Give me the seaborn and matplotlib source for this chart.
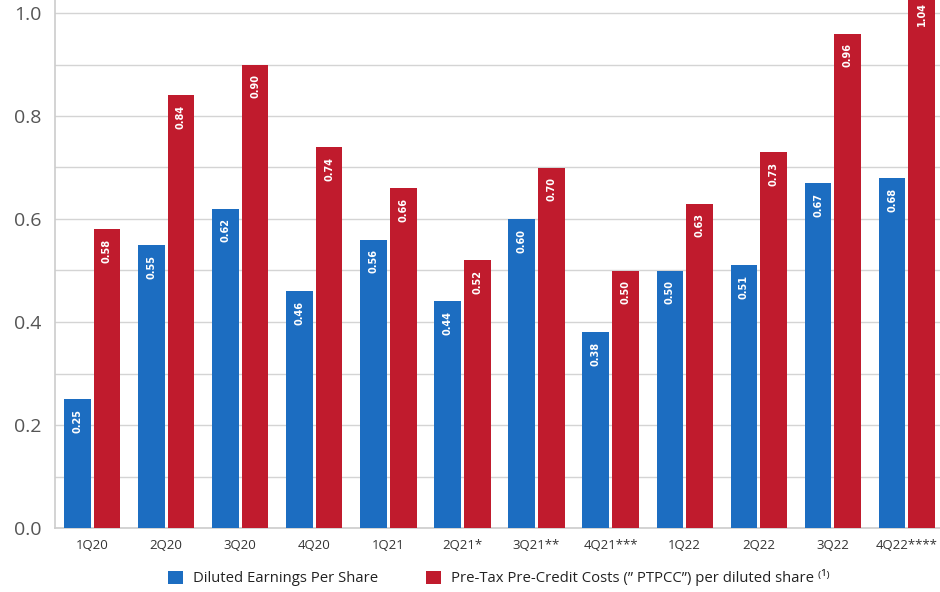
import matplotlib
matplotlib.use("Agg")
import matplotlib.pyplot as plt
from matplotlib.ticker import MultipleLocator, FixedLocator
import numpy as np
import pandas as pd
import seaborn as sns

# Quarterly per-share figures
quarters = ["1Q20", "2Q20", "3Q20", "4Q20", "1Q21", "2Q21*", "3Q21**",
            "4Q21***", "1Q22", "2Q22", "3Q22", "4Q22****"]
diluted_eps = [0.25, 0.55, 0.62, 0.46, 0.56, 0.44, 0.60, 0.38, 0.50, 0.51, 0.67, 0.68]
ptpcc = [0.58, 0.84, 0.90, 0.74, 0.66, 0.52, 0.70, 0.50, 0.63, 0.73, 0.96, 1.04]
series_names = ["Diluted Earnings Per Share",
                "Pre-Tax Pre-Credit Costs (\u201d PTPCC\u201d) per diluted share \u207d\u00b9\u207e"]
colors = ["#1c6dc1", "#c01b2d"]

df = pd.DataFrame({
    "quarter": quarters * 2,
    "value": diluted_eps + ptpcc,
    "series": [series_names[0]] * len(quarters) + [series_names[1]] * len(quarters),
})

sns.set_theme(style="white")
plt.rcParams["font.family"] = ["Open Sans", "DejaVu Sans"]

fig = plt.figure(figsize=(9.4, 5.92), dpi=100)
ax = fig.add_axes([55 / 940, 1 - 528 / 592, 889 / 940, 528 / 592])

sns.barplot(data=df, x="quarter", y="value", hue="series", palette=colors,
            width=0.8, gap=0.1, saturation=1, linewidth=0, ax=ax, legend=True, zorder=3)

ax.set_ylim(0, 528 / 515)
ax.set_xlim(-0.5, len(quarters) - 0.5)

# Grid every 0.1, labels every 0.2
ax.yaxis.set_major_locator(MultipleLocator(0.2))
ax.yaxis.set_minor_locator(MultipleLocator(0.1))
ax.grid(True, axis="y", which="both", color="#d4d4d4", linewidth=1, zorder=0)
ax.set_axisbelow(True)
ax.tick_params(axis="y", which="both", length=0, pad=10, labelsize=14, labelcolor="#555555")
ax.set_yticklabels([f"{v:.1f}" for v in ax.get_yticks()])

# Group separators along the baseline
ax.xaxis.set_minor_locator(FixedLocator(np.arange(0.5, len(quarters) - 0.5, 1)))
ax.tick_params(axis="x", which="major", length=0, pad=8, labelsize=9.5, labelcolor="#333333")
ax.tick_params(axis="x", which="minor", length=14, direction="in", color="#cccccc", width=1.2)

for side in ["top", "right"]:
    ax.spines[side].set_visible(False)
for side in ["left", "bottom"]:
    ax.spines[side].set_color("#cccccc")
    ax.spines[side].set_linewidth(1.2)

ax.set_xlabel("")
ax.set_ylabel("")

# Value labels inside the bars
for container, values in zip(ax.containers, [diluted_eps, ptpcc]):
    for patch, v in zip(container.patches, values):
        xc = patch.get_x() + patch.get_width() / 2
        ax.text(xc, v - 0.019, f"{v:.2f}", rotation=90, ha="center", va="top",
                color="white", fontsize=7, fontweight="bold",
                family=["DejaVu Sans"], zorder=4)

handles, labels = ax.get_legend_handles_labels()
ax.get_legend().remove()
fig.legend(handles, labels, loc="center", bbox_to_anchor=(0.531, 0.024), ncol=2,
           frameon=False, fontsize=10.7, handlelength=1.0, handleheight=1.0,
           handletextpad=0.7, columnspacing=3.2, labelcolor="#222222")

fig.savefig("out.png", dpi=100)
